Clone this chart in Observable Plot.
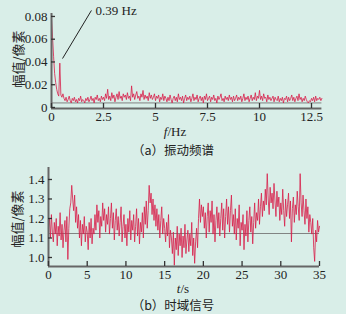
<!DOCTYPE html>
<html><head><meta charset="utf-8">
<script src="https://cdn.jsdelivr.net/npm/d3@7"></script>
<script src="https://cdn.jsdelivr.net/npm/@observablehq/plot@0.6"></script>
<style>
html,body{margin:0;padding:0;background:#d9eee8;}
#wrap{position:relative;width:346px;height:314px;overflow:hidden;background:#d9eee8;}
#wrap svg{position:absolute;left:0;}
.lab{position:absolute;font-family:"Liberation Serif",serif;color:#222;white-space:nowrap;transform:translate(-50%,-50%);line-height:1;}
.cjk{font-family:"Noto Sans CJK SC",sans-serif;}
</style></head><body><div id="wrap"></div>
<script>
// ---- (a) vibration spectrum ----
const specStep = 0.05; // Hz
const specAmp = [
0.078,0.062,0.045,0.030,0.022,0.016,0.012,0.010,0.039,0.011,0.009,0.012,
0.008,0.006,0.009,0.005,0.007,0.010,0.006,0.004,0.008,0.006,0.009,0.005,0.007,0.004,0.008,0.006,0.010,0.005,0.007,0.006,
0.004,0.008,0.006,0.009,0.005,0.007,0.010,0.006,0.008,0.004,0.009,0.007,0.011,0.006,0.008,0.005,0.010,0.007,0.009,0.006,
0.012,0.008,0.016,0.007,0.010,0.006,0.013,0.008,0.011,0.005,0.009,0.012,0.007,0.014,0.008,0.010,0.006,0.012,0.009,0.011,
0.007,0.013,0.008,0.010,0.006,0.019,0.009,0.012,0.007,0.011,0.014,0.008,0.010,0.006,0.012,0.009,0.015,0.007,0.011,0.008,
0.010,0.006,0.013,0.008,0.011,0.007,0.009,0.012,0.006,0.010,0.008,0.011,0.005,0.009,0.007,0.012,0.006,0.010,0.008,0.005,
0.009,0.006,0.011,0.007,0.004,0.008,0.010,0.006,0.009,0.005,0.012,0.007,0.009,0.006,0.010,0.004,0.008,0.011,0.006,0.009,
0.007,0.010,0.005,0.008,0.012,0.006,0.009,0.007,0.011,0.005,0.008,0.010,0.006,0.009,0.004,0.010,0.007,0.012,0.006,0.008,
0.010,0.005,0.009,0.007,0.011,0.006,0.008,0.004,0.010,0.007,0.009,0.012,0.006,0.008,0.005,0.010,0.007,0.009,0.006,0.011,
0.007,0.009,0.005,0.010,0.006,0.008,0.011,0.006,0.009,0.007,0.010,0.005,0.008,0.012,0.006,0.009,0.007,0.010,0.005,0.008,
0.011,0.006,0.009,0.007,0.013,0.006,0.010,0.008,0.015,0.007,0.010,0.006,0.012,0.008,0.009,0.005,0.011,0.007,0.009,0.006,
0.008,0.010,0.005,0.009,0.007,0.006,0.010,0.005,0.008,0.006,0.009,0.004,0.008,0.007,0.010,0.005,0.009,0.006,0.008,0.011,
0.006,0.009,0.005,0.008,0.010,0.006,0.012,0.007,0.009,0.005,0.008,0.006,0.010,0.007,0.005,0.004,0.006,0.005,0.008,0.006,
0.009,0.005,0.010,0.006,0.008,0.007,0.009,0.006,0.008
];
const specXTicks = [0, 2.5, 5, 7.5, 10, 12.5];
const specYTicks = [0, 0.02, 0.04, 0.06, 0.08];
const specMean = 0.004;
const specNote = [{x1: 0.53, y1: 0.043, x2: 1.92, y2: 0.0853, text: "0.39 Hz"}];

// ---- (b) time-domain signal ----
const timeStep = 0.125; // s
const timeAmp = [
1.15,1.20,1.10,1.22,1.13,1.08,1.18,1.12,
1.20,1.06,1.16,1.11,1.23,1.09,1.17,1.05,
1.14,1.19,1.08,1.21,0.99,1.15,1.25,1.28,
1.37,1.30,1.24,1.32,1.18,1.26,1.15,1.22,
1.10,1.19,1.06,1.17,1.12,1.21,1.08,1.16,
1.13,1.04,1.18,1.10,1.20,1.07,1.15,1.12,
1.22,1.14,1.27,1.18,1.24,1.10,1.21,1.16,
1.28,1.19,1.25,1.13,1.22,1.17,1.26,1.12,
1.20,1.28,1.15,1.23,1.09,1.19,1.25,1.14,
1.21,1.11,1.18,1.26,1.08,1.16,1.22,1.10,
1.17,1.06,1.20,1.13,1.24,1.09,1.19,1.14,
1.22,1.08,1.16,1.25,1.11,1.20,1.07,1.18,
1.13,1.23,1.10,1.26,1.17,1.29,1.15,1.24,
1.37,1.28,1.33,1.22,1.30,1.19,1.27,1.16,
1.25,1.14,1.22,1.10,1.19,1.26,1.12,1.20,
1.15,1.08,1.18,1.11,1.22,1.05,1.14,1.10,
1.02,1.13,0.96,1.10,1.04,1.16,1.01,1.12,
1.06,1.15,1.00,1.11,1.05,1.17,1.02,1.09,
1.14,1.03,1.12,1.06,1.18,1.01,1.10,0.97,
1.08,1.15,1.05,1.20,1.30,1.18,1.27,1.21,
1.26,1.15,1.23,1.10,1.21,1.28,1.13,1.24,
1.18,1.29,1.12,1.22,1.08,1.19,1.26,1.15,
1.23,1.11,1.20,1.28,1.14,1.25,1.10,1.21,
1.30,1.17,1.26,1.13,1.24,1.32,1.16,1.22,
1.12,1.25,1.09,1.20,1.15,1.27,1.06,1.18,
1.14,1.22,1.04,1.17,1.11,1.24,1.08,1.19,
1.26,1.13,1.21,1.07,1.18,1.28,1.15,1.23,
1.19,1.30,1.17,1.26,1.33,1.21,1.29,1.24,
1.35,1.27,1.43,1.30,1.22,1.36,1.28,1.33,
1.25,1.38,1.29,1.21,1.34,1.26,1.31,1.19,
1.28,1.22,1.35,1.24,1.16,1.30,1.21,1.27,
1.33,1.20,1.29,1.08,1.25,1.31,1.18,1.27,
1.22,1.34,1.26,1.19,1.43,1.28,1.21,1.32,
1.24,1.17,1.30,1.20,1.26,1.13,1.22,1.18,
1.12,1.20,1.05,0.98,1.14,1.08,1.19,1.13,
1.16
];
const timeXTicks = [0, 5, 10, 15, 20, 25, 30, 35];
const timeYTicks = [1.0, 1.1, 1.2, 1.3, 1.4];
const timeMean = 1.123;

const lineColor = "#d81f4a";
const axisColor = "#666";
const font = {fontFamily: "'Liberation Serif', serif", fontSize: "13px", color: "#222", background: "transparent", overflow: "visible"};

function panel({data, xDomain, yDomain, xTicks, yTicks, mean, yFmt, width, height, mt, mb, ml, mr, extra = []}) {
  const ph = height - mt - mb, pw = width - ml - mr;
  const dy = (yDomain[1] - yDomain[0]) * 5 / ph;  // 5px inward ticks
  const dx = (xDomain[1] - xDomain[0]) * 4 / pw;
  return Plot.plot({
    width, height, marginTop: mt, marginBottom: mb, marginLeft: ml, marginRight: mr,
    style: font,
    x: {domain: xDomain},
    y: {domain: yDomain},
    marks: [
      Plot.ruleY([mean], {stroke: "#777", strokeWidth: 0.9}),
      Plot.line(data, {x: "x", y: "y", stroke: lineColor, strokeWidth: 0.9, strokeOpacity: 0.9}),
      Plot.ruleY([yDomain[0]], {stroke: axisColor, strokeWidth: 2}),
      Plot.ruleX([xDomain[0]], {stroke: axisColor, strokeWidth: 2}),
      Plot.ruleX(xTicks, {y1: yDomain[0], y2: yDomain[0] + dy, stroke: "#333", strokeWidth: 1.3}),
      Plot.ruleY(yTicks, {x1: xDomain[0], x2: xDomain[0] + dx, stroke: "#333", strokeWidth: 1.3}),
      Plot.axisX(xTicks, {tickSize: 0, tickPadding: 3, label: null, tickFormat: d => String(d)}),
      Plot.axisY(yTicks, {tickSize: 0, tickPadding: 4, label: null, tickFormat: yFmt}),
      ...extra
    ]
  });
}

const wrap = document.getElementById("wrap");

const specData = specAmp.map((v, i) => ({x: i * specStep, y: v}));
const topPanel = panel({
  data: specData, xDomain: [0, 13], yDomain: [-0.0009, 0.0826],
  xTicks: specXTicks, yTicks: specYTicks, mean: specMean, yFmt: d => String(d),
  width: 346, height: 140, mt: 13, mb: 32, ml: 51, mr: 24.6,
  extra: [
    Plot.link(specNote, {x1: "x1", y1: "y1", x2: "x2", y2: "y2", stroke: "#222", strokeWidth: 1}),
    Plot.text(specNote, {x: d => d.x2 + 0.2, y: "y2", text: "text", textAnchor: "start", fontSize: 13, fill: "#222"})
  ]
});
topPanel.style.top = "0px";
wrap.appendChild(topPanel);

const timeData = timeAmp.map((v, i) => ({x: i * timeStep, y: v}));
const botPanel = panel({
  data: timeData, xDomain: [0, 35], yDomain: [0.9538, 1.4615],
  xTicks: timeXTicks, yTicks: timeYTicks, mean: timeMean, yFmt: d3.format(".1f"),
  width: 346, height: 159, mt: 12, mb: 48, ml: 48, mr: 27
});
botPanel.style.top = "155px";
wrap.appendChild(botPanel);

function label(html, x, y, cls = "", size = 13, extraStyle = "") {
  const d = document.createElement("div");
  d.className = "lab " + cls;
  d.innerHTML = html;
  d.style.left = x + "px";
  d.style.top = y + "px";
  d.style.fontSize = size + "px";
  if (extraStyle) d.style.cssText += extraStyle;
  wrap.appendChild(d);
}
label("幅值/像素", 17, 59, "cjk", 13, "transform:translate(-50%,-50%) rotate(-90deg);");
label("<i>f</i>/Hz", 175, 131);
label("（a）振动频谱", 173, 150, "cjk", 12.5);
label("幅值/像素", 16, 219, "cjk", 13, "transform:translate(-50%,-50%) rotate(-90deg);");
label("<i>t</i>/s", 183, 287.5);
label("（b）时域信号", 173, 305, "cjk", 12.5);
</script></body></html>
